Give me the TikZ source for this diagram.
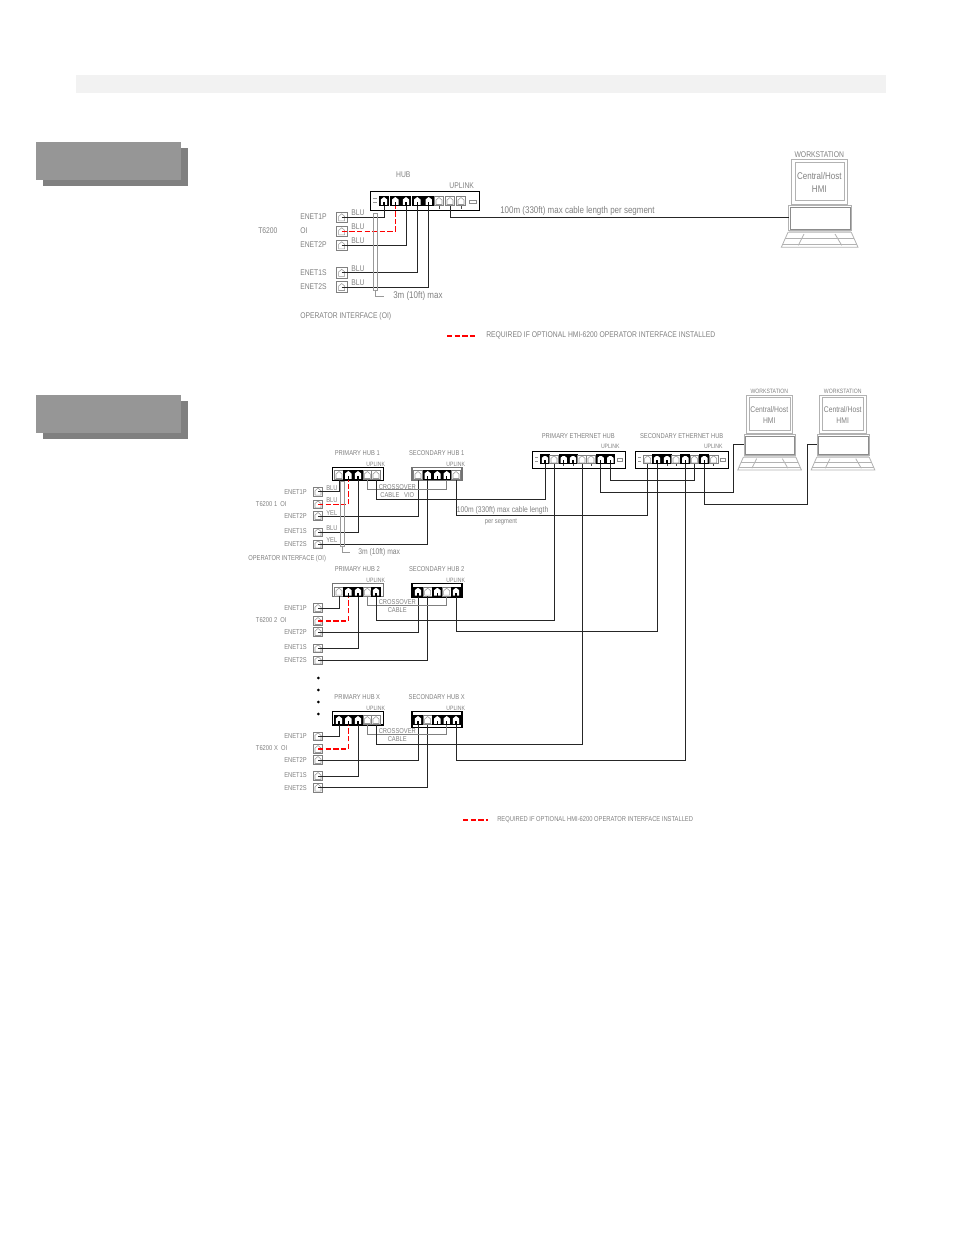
\documentclass[tikz,border=0pt]{standalone}
\usepackage{fontspec}
\setmainfont[FakeStretch=0.82]{Liberation Sans}

\tikzset{
  lab/.style={text=black!50,inner sep=0pt,font=\fontsize{6.2}{7}\selectfont},
  labs/.style={text=black!50,inner sep=0pt,font=\fontsize{5.3}{6}\selectfont},
  labl/.style={text=black!50,inner sep=0pt,font=\fontsize{7.3}{8}\selectfont},
  labw/.style={text=black!50,inner sep=0pt,font=\fontsize{4.7}{6}\selectfont},
  hubbox/.style 2 args={draw=black,line width=.8pt,fill=white,inner sep=0pt,minimum width=#1*0.75pt,minimum height=#2*0.75pt},
  jackon/.style={draw=black,line width=.9pt,fill=black,inner sep=0pt,minimum size=7.2pt,
    path picture={\fill[white] ([shift={(-3.2,4)}]path picture bounding box.center) -- ++(0,-5.5) -- ++(3.2,-2.5) -- ++(3.2,2.5) -- ++(0,5.5) -- cycle;
    \fill[black] ([shift={(-.7,4)}]path picture bounding box.center) rectangle ++(1.4,-3);}},
  jackoff/.style={draw=black!50,line width=.5pt,fill=white,inner sep=0pt,minimum size=7.2pt,
    path picture={\draw[black!40,line width=.4pt] ([shift={(-3,3.5)}]path picture bounding box.center) -- ++(0,-4.5) -- ++(3,-2.5) -- ++(3,2.5) -- ++(0,4.5) -- cycle;}},
  plug/.style={jackoff,minimum size=#1*0.75pt},
  hubled/.style={draw=black!45,line width=.4pt,inner sep=0pt,minimum width=5pt,minimum height=2.2pt},
  cable/.style={black!85,line width=.75pt},
  xover/.style={black!50,line width=.75pt},
  redcable/.style={red,line width=1.2pt,dash pattern=on 4pt off 1.7pt},
  dimline/.style={black!40,line width=.35pt},
  wsline/.style={black!30,line width=.6pt},
  dotmark/.style={circle,fill=black,inner sep=0pt,minimum size=2.2pt}
}

% workstation: name, x, y, xscale, yscale, style of title, style of screen text
\newcommand{\wkstn}[7]{
\begin{scope}[shift={(#2,#3)},xscale=#4,yscale=#5]
\draw [wsline] (-28,-45.7) rectangle (28,-0.7);
\draw [wsline] (-24,-42.7) rectangle (25.4,-4.3);
\draw [wsline] (-30.6,0.7) rectangle (32,25.7);
\draw [wsline,black!45] (-29.3,2.3) rectangle (30.7,24.3);
\fill [black!15] (-30.6,25.7) rectangle (32,27.3);
\draw [wsline] (-31.3,27.3) -- (32,27.3) -- (38.7,42.3) -- (-38,42.3) -- cycle;
\draw [wsline] (-34.2,33.7) -- (34.9,33.7);
\draw [wsline] (-36.8,39.7) -- (37.5,39.7);
\draw [wsline] (-15.3,29) -- (-21,40.3);
\draw [wsline] (15.7,29) -- (22.4,40.3);
\node [#6] (#1title) at (0,-50) {WORKSTATION};
\node [#7] (#1host) at (0,-29.3) {Central/Host};
\node [#7] (#1hmi) at (0,-15.7) {HMI};
\coordinate (#1) at (-30.6,12);
\end{scope}}

\begin{document}
\begin{tikzpicture}[x=0.75pt,y=-0.75pt]
\useasboundingbox (0,0) rectangle (954,1235);

% -------- page bands -----------
\fill [black!5] (76,75) rectangle (886,93);
\foreach \py in {0,253} {
  \fill [black!50] (43,148+\py) rectangle (188,186+\py);
  \fill [black!41] (36,142+\py) rectangle (181,180+\py);
}

% -------- single hub -----------
\node [hubbox={109.3}{19.3}] (thub) at (424.7,201.3) {};
\foreach \nm/\px/\kind in {tj1/384/jackon,tj2/395.3/jackon,tj3/406/jackon,tj4/417.3/jackon,tj5/428.7/jackon,tj6/439/jackoff,tj7/450/jackoff,tj8/461/jackoff}
  \node [\kind] (\nm) at (\px,201) {};
\foreach \nm in {tj6,tj8}
  \draw [black!70] (\nm.south) -- ++(0,2.5);
\node [hubled] (tled) at (473,201.3) {};
\draw [dimline] (373,198.5) -- (376.5,198.5) (373,202.5) -- (376.5,202.5);

\foreach \nm/\py in {tenet1p/217.3,toi/231.3,tenet2p/245.3,tenet1s/272.8,tenet2s/287}
  \node [plug=10.5] (\nm) at (341.7,\py) {};

\wkstn{wsone}{819.3}{205}{1}{1}{lab}{labl}

\draw [cable] (tenet1p.center) -| (tj1.south);
\draw [cable] (tenet2p.center) -| (tj3.south);
\draw [cable] (tenet1s.center) -| (tj4.south);
\draw [cable] (tenet2s.center) -| (tj5.south);
\draw [redcable] (toi.center) -| (tj2.south);
\draw [cable] (tj7.south) |- (wsone);

\foreach \nm/\px/\py/\tx in {tlhub/403.3/175/HUB,tlup/461.7/186/UPLINK}
  \node [lab] (\nm) at (\px,\py) {\tx};
\foreach \nm/\py/\tx in {tl1p/216.7/ENET1P,tloi/231/OI,tl2p/245/ENET2P,tl1s/272.3/ENET1S,tl2s/287/ENET2S,tlop/316.7/{OPERATOR INTERFACE (OI)}}
  \node [lab,anchor=west] (\nm) at (300,\py) {\tx};
\node [lab,anchor=west] (tlt) at (258,231) {T6200};
\foreach \nm/\py in {tb1/212.7,tb2/226.7,tb3/240.7,tb4/268.3,tb5/282.3}
  \node [lab,anchor=west] (\nm) at (351,\py) {BLU};
\node [labl,anchor=west] (tllen) at (500,210.7) {100m (330ft) max cable length per segment};
\node [labl,anchor=west] (tl3m) at (393,296.3) {3m (10ft) max};

\coordinate (tda) at (373,213);
\coordinate (tdb) at (373,290);
\coordinate (tdc) at (377,213);
\coordinate (tdd) at (377,290);
\coordinate (tde) at (375,290);
\draw [dimline] (tda) -- (tdb) -- (tde) -- (tdd) -- (tdc) -- cycle;
\draw [dimline,shorten >=6.5pt] (tde) |- (tl3m.west);

\coordinate (tlega) at (447,335.7);
\coordinate (tlegb) at (476,335.7);
\draw [redcable] (tlega) -- (tlegb);
\node [lab,anchor=west] (tlreq) at (486,335.3) {REQUIRED IF OPTIONAL HMI-6200 OPERATOR INTERFACE INSTALLED};

% -------- ethernet hubs -----------
\node [hubbox={93.4}{16.6}] (phub) at (579,460) {};
\node [hubbox={93}{16.6}] (shub) at (681.8,460) {};
\foreach \nm/\px/\kind in {pe1/545/jackon,pe2/554/jackoff,pe3/563.7/jackon,pe4/573/jackon,pe5/582/jackoff,pe6/591/jackoff,pe7/600.7/jackon,pe8/610.3/jackon,se1/647.7/jackoff,se2/657/jackon,se3/667/jackon,se4/676/jackoff,se5/685.3/jackon,se6/694.3/jackoff,se7/704.3/jackon,se8/713.7/jackoff}
  \node [\kind,minimum size=6.6pt] (\nm) at (\px,459.3) {};
\foreach \nm in {pe3,pe4,pe6,se3,se4,se6,se8}
  \draw [black!70] (\nm.south) -- ++(0,2);
\node [hubled,minimum width=4pt] (pled) at (620,460) {};
\node [hubled,minimum width=4pt] (sled) at (723,460) {};
\draw [dimline] (535,457.5) -- (537.5,457.5) (535,461.5) -- (537.5,461.5);
\draw [dimline] (638,457.5) -- (640.5,457.5) (638,461.5) -- (640.5,461.5);

\wkstn{wsa}{769.3}{434}{0.83}{0.85}{labw}{lab}
\wkstn{wsb}{842.7}{434}{0.83}{0.85}{labw}{lab}
\coordinate (wsabend) at (733.3,492.7);
\coordinate (wsbbend) at (807.3,504.3);

\draw [cable] (pe7.south) |- (wsabend) |- (wsa);
\draw [cable] (se7.south) |- (wsbbend) |- (wsb);
\draw [cable] (pe8.south) -- ++(0,16.5) -| (se6.south);

\foreach \nm/\px/\py/\tx in {tepl/578.3/436/{PRIMARY ETHERNET HUB},tesl/681.7/436/{SECONDARY ETHERNET HUB}}
  \node [labs] (\nm) at (\px,\py) {\tx};
\foreach \nm/\px in {teup/610.3,teus/713.3}
  \node [labw] (\nm) at (\px,446.7) {UPLINK};

% -------- hub 1 -----------
\node [hubbox={50.6}{12.7}] (ahub) at (358,474.3) {};
\node [hubbox={50}{12.7},draw=black!55] (bhub) at (437,474.3) {};
\foreach \nm/\px/\kind in {pa1/339/jackoff,pa2/348.3/jackon,pa3/358/jackon,pa4/367.3/jackoff,pa5/376/jackoff,sa1/418/jackoff,sa2/427.7/jackon,sa3/437.3/jackon,sa4/446.7/jackon,sa5/456/jackoff}
  \node [\kind,minimum size=6.6pt] (\nm) at (\px,475) {};
\foreach \nm/\py in {a1p/491.7,aoi/504.5,a2p/516,a1s/532.4,a2s/544.3}
  \node [plug=8.5] (\nm) at (318,\py) {};

\draw [cable] (a1p.center) -| (pa1.south);
\draw [cable] (a2p.center) -| (sa1.south);
\draw [cable] (a1s.center) -| (pa3.south);
\draw [cable] (a2s.center) -| (sa2.south);
\draw [redcable] (aoi.center) -| (pa2.south);
\draw [xover] (pa4.south) -- ++(0,10) -| (sa4.south);
\draw [cable] (pa5.south) -- ++(0,20) -| (pe1.south);
\draw [cable] (sa5.south) -- ++(0,36) -| (se1.south);

\foreach \nm/\px/\py/\tx in {alp/357.3/453.3/{PRIMARY HUB 1},als/436.7/453.3/{SECONDARY HUB 1},alc/397.3/486.7/CROSSOVER,alv/397.3/495/{CABLE\ \ \ VIO}}
  \node [labs] (\nm) at (\px,\py) {\tx};
\foreach \nm/\px in {aup/375.7,aus/455.7}
  \node [labw] (\nm) at (\px,464) {UPLINK};
\foreach \nm/\py/\tx in {al1p/491.7/ENET1P,al2p/516.3/ENET2P,al1s/531.3/ENET1S,al2s/544.3/ENET2S}
  \node [labs,anchor=west] (\nm) at (284,\py) {\tx};
\node [labs,anchor=west] (alt) at (255.7,504) {T6200 1\ \ OI};
\foreach \nm/\py/\tx in {ab1/488.3/BLU,ab2/500/BLU,ab3/512.7/YEL,ab4/528/BLU,ab5/540/YEL}
  \node [labs,anchor=west] (\nm) at (326,\py) {\tx};
\node [lab,anchor=west] (al3m) at (358,552.3) {3m (10ft) max};
\node [labs,anchor=west] (alop) at (248,558.3) {OPERATOR INTERFACE (OI)};
\node [lab,anchor=west] (allen) at (456.5,510) {100m (330ft) max cable length};
\node [labs] (alseg) at (501,522) {per segment};

\coordinate (ada) at (340.5,481);
\coordinate (adb) at (340.5,546);
\coordinate (adc) at (344.5,481);
\coordinate (add) at (344.5,546);
\coordinate (ade) at (342.5,546);
\draw [dimline] (ada) -- (adb) -- (ade) -- (add) -- (adc) -- cycle;
\draw [dimline,shorten >=6pt] (ade) |- (al3m.west);

% -------- hub 2 -----------
\node [hubbox={50.6}{13.4},draw=black!55] (chub) at (358,590) {};
\node [hubbox={50}{14.4}] (dhub) at (437,590.4) {};
\foreach \nm/\px/\kind in {pb1/339/jackoff,pb2/348.3/jackon,pb3/358/jackon,pb4/367.3/jackoff,pb5/376/jackon,sb1/418/jackon,sb2/427.7/jackoff,sb3/437.3/jackon,sb4/446.7/jackoff,sb5/456/jackon}
  \node [\kind,minimum size=6.6pt] (\nm) at (\px,591.7) {};
\foreach \nm/\py in {b1p/608,boi/621,b2p/632,b1s/648.3,b2s/660.3}
  \node [plug=8.5] (\nm) at (318,\py) {};

\draw [cable] (b1p.center) -| (pb1.south);
\draw [cable] (b2p.center) -| (sb1.south);
\draw [cable] (b1s.center) -| (pb3.south);
\draw [cable] (b2s.center) -| (sb2.south);
\draw [redcable] (boi.center) -| (pb2.south);
\draw [xover] (pb4.south) -- ++(0,9.5) -| (sb4.south);
\draw [cable] (pb5.south) -- ++(0,23.5) -| (pe2.south);
\draw [cable] (sb5.south) -- ++(0,35) -| (se2.south);

\foreach \nm/\px/\py/\tx in {clp/357.3/569.3/{PRIMARY HUB 2},cls/436.7/569.3/{SECONDARY HUB 2},clc/397.3/602.3/CROSSOVER,clv/397.3/610/CABLE}
  \node [labs] (\nm) at (\px,\py) {\tx};
\foreach \nm/\px in {cup/375.7,cus/455.7}
  \node [labw] (\nm) at (\px,580) {UPLINK};
\foreach \nm/\py/\tx in {cl1p/607.7/ENET1P,cl2p/632/ENET2P,cl1s/647.3/ENET1S,cl2s/660.3/ENET2S}
  \node [labs,anchor=west] (\nm) at (284,\py) {\tx};
\node [labs,anchor=west] (clt) at (255.7,620) {T6200 2\ \ OI};

% -------- dots -----------
\foreach \nm/\py in {dta/678,dtb/690,dtc/702,dtd/714}
  \node [dotmark] (\nm) at (318.3,\py) {};

% -------- hub X -----------
\node [hubbox={50.6}{13.4}] (ehub) at (358,718.3) {};
\node [hubbox={50}{16.8}] (fhub) at (437,719.5) {};
\foreach \nm/\px/\kind in {px1/339/jackon,px2/348.3/jackon,px3/358/jackon,px4/367.3/jackoff,px5/376/jackoff,sx1/418/jackon,sx2/427.7/jackoff,sx3/437.3/jackon,sx4/446.7/jackon,sx5/456/jackon}
  \node [\kind,minimum size=6.6pt] (\nm) at (\px,720) {};
\foreach \nm/\py in {x1p/736.3,xoi/749,x2p/760,x1s/776,x2s/787.7}
  \node [plug=8.5] (\nm) at (318,\py) {};

\draw [cable] (x1p.center) -| (px1.south);
\draw [cable] (x2p.center) -| (sx1.south);
\draw [cable] (x1s.center) -| (px3.south);
\draw [cable] (x2s.center) -| (sx2.south);
\draw [redcable] (xoi.center) -| (px2.south);
\draw [xover] (px4.south) -- ++(0,9.5) -| (sx4.south);
\draw [cable] (px5.south) -- ++(0,19.5) -| (pe5.south);
\draw [cable] (sx5.south) -- ++(0,35) -| (se5.south);

\foreach \nm/\px/\py/\tx in {elp/357.3/696.7/{PRIMARY HUB X},els/436.7/696.7/{SECONDARY HUB X},elc/397.3/730.7/CROSSOVER,elv/397.3/738.7/CABLE}
  \node [labs] (\nm) at (\px,\py) {\tx};
\foreach \nm/\px in {eup/375.7,eus/455.7}
  \node [labw] (\nm) at (\px,708.3) {UPLINK};
\foreach \nm/\py/\tx in {el1p/735.7/ENET1P,el2p/760/ENET2P,el1s/775.3/ENET1S,el2s/787.7/ENET2S}
  \node [labs,anchor=west] (\nm) at (284,\py) {\tx};
\node [labs,anchor=west] (elt) at (255.7,747.7) {T6200 X\ \ OI};

% -------- legend -----------
\coordinate (blega) at (463,820);
\coordinate (blegb) at (488,820);
\draw [redcable] (blega) -- (blegb);
\node [labs,anchor=west] (blreq) at (497,820) {REQUIRED IF OPTIONAL HMI-6200 OPERATOR INTERFACE INSTALLED};

\end{tikzpicture}
\end{document}
